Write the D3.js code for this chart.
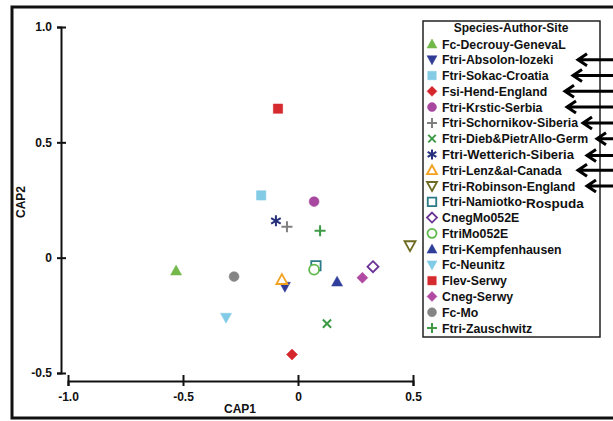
<!DOCTYPE html>
<html>
<head>
<meta charset="utf-8">
<script src="https://cdn.jsdelivr.net/npm/d3@7"></script>
<style>
  body { margin: 0; background: #fff; }
  svg { display: block; font-family: "Liberation Sans", Arial, sans-serif; font-weight: bold; }
</style>
</head>
<body>
<svg id="chart" width="613" height="421"></svg>
<script>
// chart values
const species = [
  "Fc-Decrouy-GenevaL", "Ftri-Absolon-Iozeki", "Ftri-Sokac-Croatia", "Fsi-Hend-England",
  "Ftri-Krstic-Serbia", "Ftri-Schornikov-Siberia", "Ftri-Dieb&PietrAllo-Germ", "Ftri-Wetterich-Siberia",
  "Ftri-Lenz&al-Canada", "Ftri-Robinson-England", "Ftri-Namiotko-Rospuda", "CnegMo052E",
  "FtriMo052E", "Ftri-Kempfenhausen", "Fc-Neunitz", "Flev-Serwy", "Cneg-Serwy", "Fc-Mo", "Ftri-Zauschwitz"
];
const cap1 = [-0.53, -0.057, -0.16, -0.026, 0.07, -0.048, 0.126, -0.096, -0.07, 0.487, 0.078, 0.326, 0.07, 0.17, -0.313, -0.087, 0.28, -0.278, 0.096];
const cap2 = [-0.056, -0.126, 0.27, -0.42, 0.243, 0.134, -0.286, 0.16, -0.095, 0.052, -0.035, -0.039, -0.052, -0.104, -0.26, 0.646, -0.087, -0.082, 0.117];
const xTicks = [-1.0, -0.5, 0, 0.5];
const yTicks = [-0.5, 0, 0.5, 1.0];
const xTickLabels = ["-1.0", "-0.5", "0", "0.5"];
const yTickLabels = ["-0.5", "0", "0.5", "1.0"];
// legend rows that carry a hand-drawn arrow
const arrowRows = [1, 2, 3, 4, 5, 6, 7, 8, 9];

// marker style per series (shape, colour, filled)
const markerStyle = [
  ["triUp", "#72b84a", true], ["triDown", "#2f3b94", true], ["square", "#84cbe5", true],
  ["diamond", "#d5262b", true], ["circle", "#a8479f", true], ["plus", "#808080", false],
  ["x", "#3b9a45", false], ["star", "#27307c", false], ["triUp", "#f2a21f", false],
  ["triDown", "#6e6a1f", false], ["square", "#2a7a88", false], ["diamond", "#6b3296", false],
  ["circle", "#5db94b", false], ["triUp", "#2f3e9b", true], ["triDown", "#80cbe6", true],
  ["square", "#d52a2e", true], ["diamond", "#b04aa3", true], ["circle", "#858585", true],
  ["plus", "#3d9b46", false]
];
// arrow head x for each arrow row (legend annotation)
const arrowHeadX = [578, 573, 565, 567, 583, 597, 587, 578, 587];

const svg = d3.select("#chart");

// outer frame
svg.append("rect").attr("x", 12).attr("y", 7).attr("width", 640).attr("height", 411)
  .attr("fill", "none").attr("stroke", "#111").attr("stroke-width", 3);

const x = d3.scaleLinear().domain([-1, 0.5]).range([68, 413]);
const y = d3.scaleLinear().domain([-0.5, 1.0]).range([373, 27]);

// y axis
const yAx = svg.append("g").attr("transform", "translate(61,0)")
  .call(d3.axisLeft(y).tickValues(yTicks).tickFormat((d, i) => yTickLabels[i]).tickSizeOuter(0).tickSize(4).tickPadding(5));
yAx.selectAll(".tick line").attr("x2", 5).attr("x1", -4);
// x axis
const xAx = svg.append("g").attr("transform", "translate(0,381)")
  .call(d3.axisBottom(x).tickValues(xTicks).tickFormat((d, i) => xTickLabels[i]).tickSizeOuter(0).tickSize(5).tickPadding(6));
xAx.selectAll(".tick line").attr("y1", -6).attr("y2", 5);
[yAx, xAx].forEach(a => {
  a.select(".domain").attr("stroke", "#111").attr("stroke-width", 2);
  a.selectAll(".tick line").attr("stroke", "#111").attr("stroke-width", 2);
  a.selectAll("text").attr("font-size", 12).attr("font-weight", "bold").attr("fill", "#111")
    .attr("font-family", "'Liberation Sans', Arial, sans-serif");
});

svg.append("text").attr("x", 240).attr("y", 413).attr("text-anchor", "middle")
  .attr("font-size", 12).attr("fill", "#111").text("CAP1");
svg.append("text").attr("transform", "translate(25,202) rotate(-90)").attr("text-anchor", "middle")
  .attr("font-size", 12).attr("fill", "#111").text("CAP2");

function marker(g, style, s) {
  const [shape, color, filled] = style;
  const r = s / 2;
  let path;
  if (shape === "triUp") path = `M0,${-r}L${r},${r * 0.8}L${-r},${r * 0.8}Z`;
  else if (shape === "triDown") path = `M0,${r}L${r},${-r * 0.8}L${-r},${-r * 0.8}Z`;
  else if (shape === "square") path = `M${-r * 0.85},${-r * 0.85}h${r * 1.7}v${r * 1.7}h${-r * 1.7}Z`;
  else if (shape === "diamond") path = `M0,${-r}L${r},0L0,${r}L${-r},0Z`;
  else if (shape === "circle") path = d3.arc()({ innerRadius: 0, outerRadius: r * 0.9, startAngle: 0, endAngle: 2 * Math.PI });
  else if (shape === "plus") path = `M${-r},0H${r}M0,${-r}V${r}`;
  else if (shape === "x") path = `M${-r * 0.75},${-r * 0.75}L${r * 0.75},${r * 0.75}M${r * 0.75},${-r * 0.75}L${-r * 0.75},${r * 0.75}`;
  else if (shape === "star") path = `M0,${-r}V${r}M${-r * 0.87},${-r * 0.5}L${r * 0.87},${r * 0.5}M${r * 0.87},${-r * 0.5}L${-r * 0.87},${r * 0.5}`;
  const lines = shape === "plus" || shape === "x" || shape === "star";
  g.append("path").attr("d", path)
    .attr("fill", filled ? color : (lines ? "none" : "#fff"))
    .attr("stroke", color)
    .attr("stroke-width", filled ? 0.5 : (lines ? 2 : 1.8));
}

// points
species.forEach((name, i) => {
  const g = svg.append("g").attr("transform", `translate(${x(cap1[i])},${y(cap2[i])})`);
  marker(g, markerStyle[i], 11);
});

// legend
const lg = svg.append("g");
lg.append("rect").attr("x", 423).attr("y", 21).attr("width", 177).attr("height", 316)
  .attr("fill", "#fff").attr("stroke", "#222").attr("stroke-width", 1.5);
lg.append("text").attr("x", 511).attr("y", 32).attr("text-anchor", "middle")
  .attr("font-size", 12).attr("fill", "#111").text("Species-Author-Site");
const rowY = d3.scaleLinear().domain([0, 18]).range([44, 328]);
species.forEach((name, i) => {
  const g = lg.append("g").attr("transform", `translate(432,${rowY(i)})`);
  marker(g, markerStyle[i], 10);
  const t = lg.append("text").attr("x", 442).attr("y", rowY(i) + 4.5)
    .attr("font-size", i === 7 ? 13 : 12.3).attr("fill", "#111");
  if (name.endsWith("Rospuda")) {
    t.append("tspan").text("Ftri-Namiotko-");
    t.append("tspan").attr("font-size", 13.5).attr("dy", 2).text("Rospuda");
  } else {
    t.text(name);
  }
});

// hand-drawn arrows
arrowRows.forEach((row, k) => {
  const ay = rowY(row) + (row === 7 ? 1 : 0);
  const hx = arrowHeadX[k];
  lg.append("path")
    .attr("d", `M${hx + 1},${ay}H614M${hx + 9},${ay - 6}L${hx},${ay}L${hx + 9},${ay + 6}`)
    .attr("fill", "none").attr("stroke", "#000").attr("stroke-width", 3)
    .attr("stroke-linejoin", "miter");
});
</script>
</body>
</html>
